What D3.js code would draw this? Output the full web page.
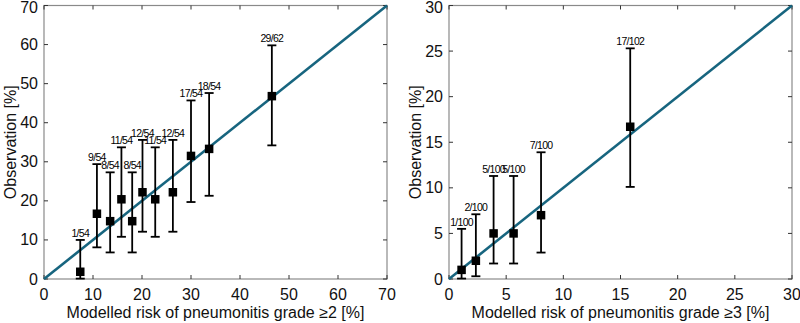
<!DOCTYPE html>
<html>
<head>
<meta charset="utf-8">
<script src="https://cdn.jsdelivr.net/npm/d3@7"></script>
<style>
  body { margin: 0; background: #fff; }
  svg text { font-family: "Liberation Sans", Arial, sans-serif; }
</style>
</head>
<body>
<div id="chart"></div>
<script>
// grade >= 2 panel
const g2Model = [7.4, 10.8, 13.5, 15.8, 18.0, 20.1, 22.7, 26.3, 30.0, 33.7, 46.5];
const g2Obs = [1.85, 16.7, 14.8, 20.4, 14.8, 22.2, 20.4, 22.2, 31.5, 33.3, 46.8];
const g2Lo = [0.1, 8.1, 6.8, 10.8, 6.8, 12.1, 10.8, 12.1, 19.7, 21.3, 34.2];
const g2Hi = [10.0, 29.4, 27.3, 33.7, 27.3, 35.6, 33.7, 35.6, 45.7, 47.6, 59.8];
const g2Labels = ["1/54", "9/54", "8/54", "11/54", "8/54", "12/54", "11/54", "12/54", "17/54", "18/54", "29/62"];
const g2Ticks = [0, 10, 20, 30, 40, 50, 60, 70];

// grade >= 3 panel
const g3Model = [1.1, 2.35, 3.9, 5.65, 8.05, 15.85];
const g3Obs = [1.0, 2.0, 5.0, 5.0, 7.0, 16.7];
const g3Lo = [0.05, 0.3, 1.7, 1.7, 2.9, 10.1];
const g3Hi = [5.5, 7.1, 11.3, 11.3, 13.9, 25.3];
const g3Labels = ["1/100", "2/100", "5/100", "5/100", "7/100", "17/102"];
const g3Ticks = [0, 5, 10, 15, 20, 25, 30];

const width = 800, height = 323;
const svg = d3.select("#chart").append("svg")
    .attr("width", width)
    .attr("height", height);

function panel(opts) {
    let x = d3.scaleLinear().domain([0, opts.max]).range([opts.left, opts.left + 343]);
    let y = d3.scaleLinear().domain([0, opts.max]).range([279, 5.5]);
    let g = svg.append("g");

    // frame
    g.append("rect")
        .attr("x", x(0)).attr("y", y(opts.max))
        .attr("width", x(opts.max) - x(0)).attr("height", y(0) - y(opts.max))
        .attr("fill", "none").attr("stroke", "#8a8a8a").attr("stroke-width", 1.2);

    // ticks, mirrored inward on all four sides
    opts.ticks.forEach(t => {
        g.append("line").attr("x1", x(t)).attr("x2", x(t)).attr("y1", y(0)).attr("y2", y(0) - 4)
            .attr("stroke", "#333");
        g.append("line").attr("x1", x(t)).attr("x2", x(t)).attr("y1", y(opts.max)).attr("y2", y(opts.max) + 4)
            .attr("stroke", "#333");
        g.append("line").attr("y1", y(t)).attr("y2", y(t)).attr("x1", x(0)).attr("x2", x(0) + 4)
            .attr("stroke", "#333");
        g.append("line").attr("y1", y(t)).attr("y2", y(t)).attr("x1", x(opts.max)).attr("x2", x(opts.max) - 4)
            .attr("stroke", "#333");
        g.append("text").attr("x", x(t)).attr("y", y(0) + 21)
            .attr("text-anchor", "middle").attr("font-size", "16px").attr("fill", "#111").text(t);
        g.append("text").attr("x", x(0) - 6).attr("y", Math.max(y(t) + 5.5, 13))
            .attr("text-anchor", "end").attr("font-size", "16px").attr("fill", "#111").text(t);
    });

    // axis titles
    g.append("text")
        .attr("x", (x(0) + x(opts.max)) / 2).attr("y", 318)
        .attr("text-anchor", "middle").attr("font-size", "16px").attr("fill", "#111")
        .text(opts.xlabel);
    g.append("text")
        .attr("transform", `translate(${x(0) - 28},${(y(0) + y(opts.max)) / 2}) rotate(-90)`)
        .attr("text-anchor", "middle").attr("font-size", "16px").attr("fill", "#111")
        .text("Observation [%]");

    // identity line
    g.append("line")
        .attr("x1", x(0)).attr("y1", y(0)).attr("x2", x(opts.max)).attr("y2", y(opts.max))
        .attr("stroke", "#17657f").attr("stroke-width", 2.6);

    let idx = d3.range(opts.model.length);

    // error bars
    g.selectAll(".eb").data(idx).enter().append("line")
        .attr("x1", i => x(opts.model[i])).attr("x2", i => x(opts.model[i]))
        .attr("y1", i => y(opts.lo[i])).attr("y2", i => y(opts.hi[i]))
        .attr("stroke", "#000").attr("stroke-width", 1.8);
    ["lo", "hi"].forEach(k => {
        g.selectAll(".cap" + k).data(idx).enter().append("line")
            .attr("x1", i => x(opts.model[i]) - 4.5).attr("x2", i => x(opts.model[i]) + 4.5)
            .attr("y1", i => y(opts[k][i])).attr("y2", i => y(opts[k][i]))
            .attr("stroke", "#000").attr("stroke-width", 1.8);
    });

    // markers
    g.selectAll(".pt").data(idx).enter().append("rect")
        .attr("x", i => x(opts.model[i]) - 4.25).attr("y", i => y(opts.obs[i]) - 4.25)
        .attr("width", 8.5).attr("height", 8.5).attr("fill", "#000");

    // count labels
    g.selectAll(".lbl").data(idx).enter().append("text")
        .attr("x", i => x(opts.model[i])).attr("y", i => y(opts.hi[i]) - 3)
        .attr("text-anchor", "middle").attr("font-size", "10.5px").attr("letter-spacing", "-0.7px")
        .attr("fill", "#000")
        .text(i => opts.labels[i]);
}

panel({ left: 44, max: 70, ticks: g2Ticks, model: g2Model, obs: g2Obs, lo: g2Lo, hi: g2Hi,
        labels: g2Labels, xlabel: "Modelled risk of pneumonitis grade \u22652 [%]" });
panel({ left: 449, max: 30, ticks: g3Ticks, model: g3Model, obs: g3Obs, lo: g3Lo, hi: g3Hi,
        labels: g3Labels, xlabel: "Modelled risk of pneumonitis grade \u22653 [%]" });
</script>
</body>
</html>
